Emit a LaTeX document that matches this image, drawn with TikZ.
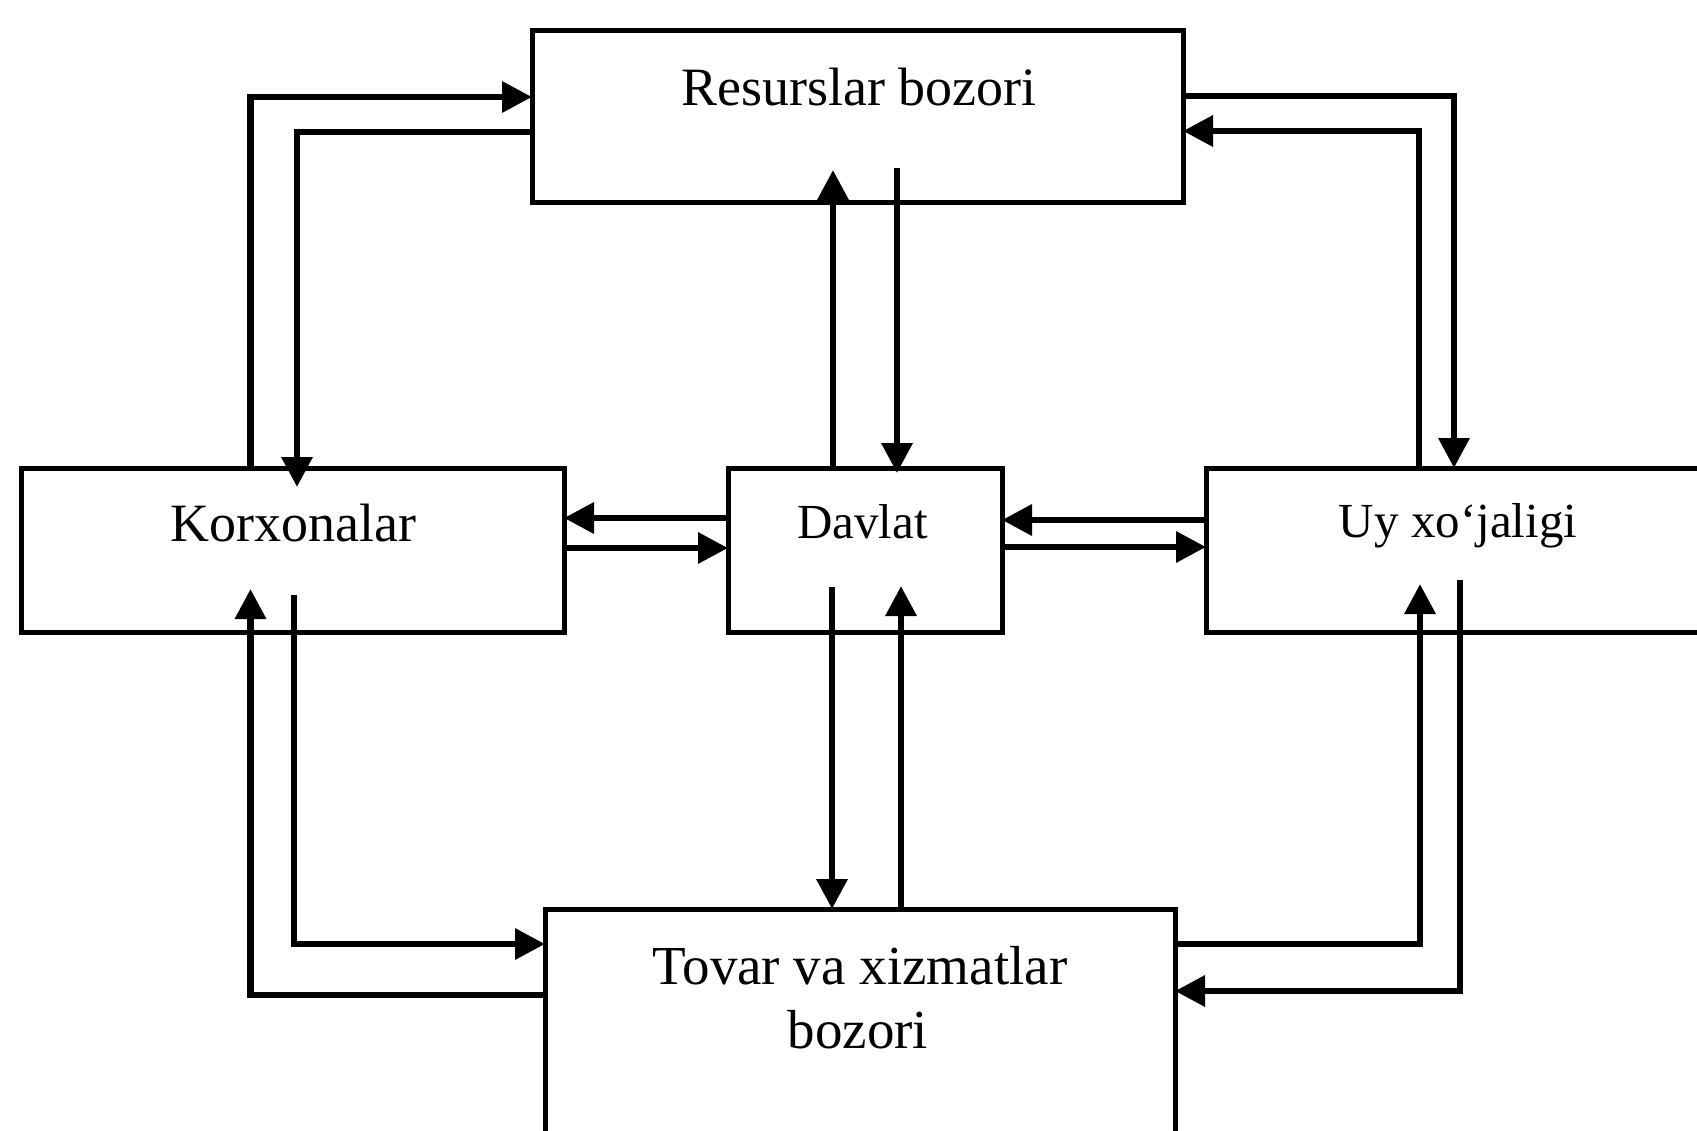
\documentclass[tikz,border=0pt]{standalone}
\usepackage{fontspec}
\setmainfont{Liberation Serif}
\usetikzlibrary{arrows.meta}
\begin{document}
\begin{tikzpicture}[x=1pt,y=-1pt,
  box/.style={draw, line width=5pt, inner sep=0pt, outer sep=0pt},
  arr/.style={line width=6.5pt, -{Triangle[length=30pt,width=30pt]}},
  lab/.style={anchor=base, inner sep=0pt},
  bigf/.style={font=\fontsize{54}{64}\selectfont},
  smallf/.style={font=\fontsize{49}{60}\selectfont}]
\useasboundingbox (0,0) rectangle (1697,1130);
% boxes
\node[box, minimum width=651pt, minimum height=172pt] (res) at (857.5,116) {};
\node[box, minimum width=543pt, minimum height=164pt] (korx) at (292.5,550) {};
\node[box, minimum width=274pt, minimum height=164pt] (dav) at (865,550) {};
\node[box, minimum width=506pt, minimum height=164pt] (uy) at (1459,550) {};
\node[box, minimum width=630pt, minimum height=241pt] (tov) at (860,1029.5) {};
% labels
\node[lab, bigf] (reslab) at (859,105) {Resurslar bozori};
\node[lab, bigf] (korxlab) at (293.5,541) {Korxonalar};
\node[lab, smallf] (davlab) at (862.5,538) {Davlat};
\node[lab, smallf] (uylab) at (1458,537) {Uy xo‘jaligi};
\node[lab, font=\fontsize{55}{64}\selectfont] (tovlab) at (860,984) {Tovar va xizmatlar};
\node[lab, font=\fontsize{55}{64}\selectfont] (tovlabb) at (858,1048) {bozori};
% Korxonalar <-> Resurslar
\draw[arr] ([xshift=-42pt]korx.north) |- ([yshift=19pt]res.west);
\draw[arr] ([yshift=-16pt]res.west) -| ([xshift=4.5pt,yshift=-19pt]korx.north);
% Resurslar <-> Uy
\draw[arr] ([yshift=20pt]res.east) -| ([xshift=-5pt]uy.north);
\draw[arr] ([xshift=-40pt]uy.north) |- ([yshift=-15pt]res.east);
% Davlat <-> Resurslar
\draw[arr] ([xshift=-32pt]dav.north) -- ([xshift=-24.5pt,yshift=32pt]res.south);
\draw[arr] ([xshift=39.5pt,yshift=34pt]res.south) -- ([xshift=32pt,yshift=-5pt]dav.north);
% Davlat <-> Korxonalar
\draw[arr] ([yshift=32pt]dav.west) -- ([yshift=32pt]korx.east);
\draw[arr] ([yshift=2pt]korx.east) -- ([yshift=2pt]dav.west);
% Davlat <-> Uy
\draw[arr] ([yshift=30pt]uy.west) -- ([yshift=30pt]dav.east);
\draw[arr] ([yshift=3pt]dav.east) -- ([yshift=3pt]uy.west);
% Korxonalar <-> Tovar
\draw[arr] ([xshift=1.5pt,yshift=37pt]korx.south) |- ([yshift=85.5pt]tov.west);
\draw[arr] ([yshift=34.5pt]tov.west) -| ([xshift=-42pt,yshift=43pt]korx.south);
% Davlat <-> Tovar
\draw[arr] ([xshift=-33pt,yshift=45pt]dav.south) -- ([xshift=-28pt]tov.north);
\draw[arr] ([xshift=41pt]tov.north) -- ([xshift=36pt,yshift=46pt]dav.south);
% Uy <-> Tovar
\draw[arr] ([yshift=85.5pt]tov.east) -| ([xshift=-39pt,yshift=48pt]uy.south);
\draw[arr] ([xshift=1pt,yshift=52pt]uy.south) |- ([yshift=38.5pt]tov.east);
\end{tikzpicture}
\end{document}
